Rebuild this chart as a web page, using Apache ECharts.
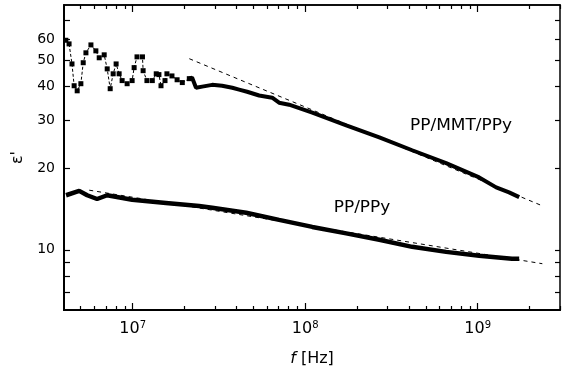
<!DOCTYPE html>
<html><head><meta charset="utf-8">
<script src="https://cdn.jsdelivr.net/npm/echarts@6/dist/echarts.min.js"></script>
<style>html,body{margin:0;padding:0;background:#fff}#c{width:570px;height:376px}</style>
</head><body><div id="c"></div>
<script>
// PP/MMT/PPy, noisy low-frequency part (Hz, eps')
const freqTopNoisy = [4.10e6, 4.28e6, 4.45e6, 4.58e6, 4.77e6, 5.01e6, 5.17e6, 5.36e6, 5.73e6, 6.12e6, 6.40e6, 6.84e6, 7.12e6, 7.41e6, 7.71e6, 8.02e6, 8.35e6, 8.69e6, 9.29e6, 9.93e6, 1.02e7, 1.06e7, 1.14e7, 1.15e7, 1.21e7, 1.30e7, 1.37e7, 1.42e7, 1.46e7, 1.54e7, 1.58e7, 1.69e7, 1.81e7, 1.94e7, 2.13e7];
const epsTopNoisy  = [59.3, 57.5, 48.5, 40.3, 38.6, 41.0, 49.0, 53.3, 57.0, 54.2, 51.1, 52.4, 46.5, 39.3, 44.6, 48.5, 44.6, 42.1, 41.0, 42.1, 47.0, 51.5, 51.5, 45.8, 42.1, 42.1, 44.6, 44.3, 40.3, 42.1, 44.6, 43.8, 42.4, 41.4, 42.8];
// PP/MMT/PPy, dense part
const freqTop = [2.13e7, 2.21e7, 2.33e7, 2.53e7, 2.89e7, 3.30e7, 3.78e7, 4.14e7, 4.61e7, 5.41e7, 6.44e7, 7.06e7, 8.07e7, 1.10e8, 1.73e8, 2.69e8, 4.17e8, 6.56e8, 1.02e9, 1.28e9, 1.52e9, 1.74e9];
const epsTop  = [42.8, 43.2, 39.6, 40.0, 40.6, 40.3, 39.6, 39.0, 38.3, 37.1, 36.4, 34.9, 34.3, 32.1, 28.8, 26.0, 23.3, 20.9, 18.5, 17.0, 16.3, 15.65];
// PP/PPy
const freqLow = [4.11e6, 4.90e6, 5.45e6, 6.22e6, 7.12e6, 9.93e6, 1.56e7, 2.43e7, 2.89e7, 4.55e7, 7.06e7, 1.10e8, 1.73e8, 2.69e8, 4.17e8, 6.56e8, 1.02e9, 1.58e9, 1.74e9];
const epsLow  = [15.9, 16.5, 15.9, 15.4, 15.9, 15.3, 14.9, 14.5, 14.3, 13.7, 12.9, 12.15, 11.5, 10.9, 10.26, 9.83, 9.51, 9.27, 9.27];
// dashed power-law fits
const fitTopF = [2.13e7, 2.33e9];
const fitTopE = [50.7, 14.6];
const fitLowF = [5.6e6, 2.37e9];
const fitLowE = [16.6, 8.89];
// ticks
const xMajorTicks = [1e7, 1e8, 1e9];
const xMinorTicks = [5e6, 6e6, 7e6, 8e6, 9e6, 2e7, 3e7, 4e7, 5e7, 6e7, 7e7, 8e7, 9e7, 2e8, 3e8, 4e8, 5e8, 6e8, 7e8, 8e8, 9e8, 2e9, 3e9];
const yLabels = [10, 20, 30, 40, 50, 60];
const yTicks = [7, 8, 9, 10, 20, 30, 40, 50, 60, 70];

const zip = (a, b) => a.map((v, i) => [v, b[i]]);
const font = "'DejaVu Sans', sans-serif";

function xAxisCfg(pos, ticks, len, labels) {
  return {
    type: 'log', logBase: 10, min: 4e6, max: 3e9, position: pos,
    splitLine: { show: false },
    axisLine: { show: true, onZero: false, lineStyle: { color: '#000', width: pos === 'bottom' ? 2 : 1.5 } },
    axisTick: { show: true, inside: true, length: len, customValues: ticks, lineStyle: { color: '#000', width: 1.2 } },
    axisLabel: labels ? {
      show: true, customValues: xMajorTicks, margin: 10, color: '#000',
      fontFamily: font,
      formatter: v => '{b|10}{s|' + Math.round(Math.log10(v)) + '}',
      rich: { b: { fontSize: 16, fontFamily: font, color: '#000', lineHeight: 18 },
              s: { fontSize: 10, fontFamily: font, color: '#000', verticalAlign: 'top', lineHeight: 10 } }
    } : { show: false },
    name: labels ? '{i|f} [Hz]' : '', nameLocation: 'middle', nameGap: 41,
    nameTextStyle: { fontSize: 16, fontFamily: font, color: '#000', rich: { i: { fontStyle: 'italic', fontSize: 16, fontFamily: font, color: '#000' } } }
  };
}
function yAxisCfg(pos, labels) {
  return {
    type: 'log', logBase: 10, min: 6, max: 80, position: pos,
    splitLine: { show: false },
    axisLine: { show: true, onZero: false, lineStyle: { color: '#000', width: pos === 'left' ? 2 : 1.5 } },
    axisTick: { show: true, inside: true, length: labels ? 6 : 5, customValues: yTicks, lineStyle: { color: '#000', width: 1.2 } },
    axisLabel: labels ? { show: true, customValues: yLabels, margin: 9, color: '#000', fontSize: 14, fontFamily: font } : { show: false },
    name: labels ? "ε'" : '', nameLocation: 'middle', nameGap: 38, nameRotate: 90,
    nameTextStyle: { fontSize: 16, fontFamily: font, color: '#000' }
  };
}

const chart = echarts.init(document.getElementById('c'), null, { renderer: 'canvas' });
chart.setOption({
  animation: false,
  backgroundColor: '#fff',
  grid: { left: 64, top: 5, right: 10, bottom: 66, show: false },
  xAxis: [
    xAxisCfg('bottom', xMajorTicks, 7, true),
    xAxisCfg('bottom', xMinorTicks, 4, false),
    xAxisCfg('top', xMajorTicks, 7, false),
    xAxisCfg('top', xMinorTicks, 4, false)
  ],
  yAxis: [yAxisCfg('left', true), yAxisCfg('right', false)],
  series: [
    { type: 'line', data: zip(fitTopF, fitTopE), showSymbol: false, lineStyle: { color: '#000', width: 1, type: [4, 4] }, z: 1 },
    { type: 'line', data: zip(fitLowF, fitLowE), showSymbol: false, lineStyle: { color: '#000', width: 1, type: [4, 4] }, z: 1 },
    { type: 'line', data: zip(freqTopNoisy, epsTopNoisy), symbol: 'rect', symbolSize: 5, showSymbol: true,
      itemStyle: { color: '#000' }, lineStyle: { color: '#000', width: 1, type: [3, 2] }, z: 2 },
    { type: 'line', data: zip(freqTop, epsTop), showSymbol: false, lineStyle: { color: '#000', width: 4 }, z: 3 },
    { type: 'line', data: zip(freqLow, epsLow), showSymbol: false, lineStyle: { color: '#000', width: 4.5 }, z: 3 }
  ],
  graphic: [
    { type: 'text', x: 461, y: 126, scaleX: 1.13, style: { text: 'PP/MMT/PPy', font: '15px ' + font, fill: '#000', textAlign: 'center', textVerticalAlign: 'middle' } },
    { type: 'text', x: 362, y: 208, scaleX: 1.13, style: { text: 'PP/PPy', font: '15px ' + font, fill: '#000', textAlign: 'center', textVerticalAlign: 'middle' } }
  ]
});
</script>
</body></html>
